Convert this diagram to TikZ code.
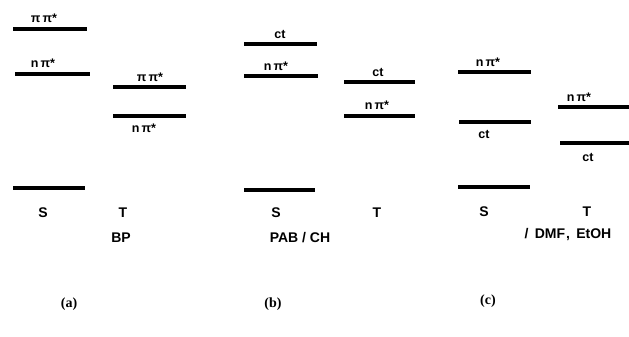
\documentclass[tikz,border=0pt]{standalone}
\usepackage{fontspec}
\setmainfont{Liberation Sans}
\newfontfamily\serifpanel{Liberation Serif}
\begin{document}
\begin{tikzpicture}[x=1pt,y=-1pt,
  lvl/.style={line width=3.1pt},
  lab/.style={inner sep=0pt,font=\bfseries\fontsize{12.5}{13}\selectfont},
  axl/.style={inner sep=0pt,font=\bfseries\fontsize{14}{15}\selectfont},
  pan/.style={inner sep=0pt,font=\serifpanel\bfseries\fontsize{14}{15}\selectfont}]
\useasboundingbox (0,0) rectangle (629,337);
% panel (a)
\coordinate (aS1l) at (13,29); \coordinate (aS1r) at (87,29);
\coordinate (aS2l) at (15,74); \coordinate (aS2r) at (90,74);
\coordinate (aS0l) at (13,188); \coordinate (aS0r) at (85,188);
\coordinate (aT1l) at (113,87); \coordinate (aT1r) at (186,87);
\coordinate (aT2l) at (113,116); \coordinate (aT2r) at (186,116);
\draw[lvl] (aS1l) -- (aS1r);
\draw[lvl] (aS2l) -- (aS2r);
\draw[lvl] (aS0l) -- (aS0r);
\draw[lvl] (aT1l) -- (aT1r);
\draw[lvl] (aT2l) -- (aT2r);
\node[lab] (la1) at (44,18) {π\,π*};
\node[lab] (la2) at (43,63) {n\,π*};
\node[lab] (la3) at (150,77) {π\,π*};
\node[lab] (la4) at (144,128) {n\,π*};
\node[axl] (aS) at (43,213) {S};
\node[axl] (aT) at (123,213) {T};
\node[axl] (aBP) at (121,238) {BP};
\node[pan] (pa) at (69,304) {(a)};
% panel (b)
\coordinate (bS1l) at (244,44); \coordinate (bS1r) at (317,44);
\coordinate (bS2l) at (244,76); \coordinate (bS2r) at (318,76);
\coordinate (bS0l) at (244,190); \coordinate (bS0r) at (315,190);
\coordinate (bT1l) at (344,82); \coordinate (bT1r) at (415,82);
\coordinate (bT2l) at (344,116); \coordinate (bT2r) at (415,116);
\draw[lvl] (bS1l) -- (bS1r);
\draw[lvl] (bS2l) -- (bS2r);
\draw[lvl] (bS0l) -- (bS0r);
\draw[lvl] (bT1l) -- (bT1r);
\draw[lvl] (bT2l) -- (bT2r);
\node[lab] (lb1) at (280,34) {ct};
\node[lab] (lb2) at (276,66) {n\,π*};
\node[lab] (lb3) at (378,72) {ct};
\node[lab] (lb4) at (377,105) {n\,π*};
\node[axl] (bS) at (276,213) {S};
\node[axl] (bT) at (377,213) {T};
\node[axl] (bPAB) at (300,238) {PAB / CH};
\node[pan] (pb) at (273,304) {(b)};
% panel (c)
\coordinate (cS1l) at (458,72); \coordinate (cS1r) at (531,72);
\coordinate (cS2l) at (459,122); \coordinate (cS2r) at (531,122);
\coordinate (cS0l) at (458,187); \coordinate (cS0r) at (530,187);
\coordinate (cT1l) at (558,107); \coordinate (cT1r) at (629,107);
\coordinate (cT2l) at (560,143); \coordinate (cT2r) at (629,143);
\draw[lvl] (cS1l) -- (cS1r);
\draw[lvl] (cS2l) -- (cS2r);
\draw[lvl] (cS0l) -- (cS0r);
\draw[lvl] (cT1l) -- (cT1r);
\draw[lvl] (cT2l) -- (cT2r);
\node[lab] (lc1) at (488,62) {n\,π*};
\node[lab] (lc2) at (484,134) {ct};
\node[lab] (lc3) at (579,97) {n\,π*};
\node[lab] (lc4) at (588,157) {ct};
\node[axl] (cS) at (484,212) {S};
\node[axl] (cT) at (587,212) {T};
\node[axl] (cDMF) at (568,235) {/ \,DMF\kern1pt, \,EtOH};
\node[pan] (pc) at (488,301) {(c)};
\end{tikzpicture}
\end{document}
